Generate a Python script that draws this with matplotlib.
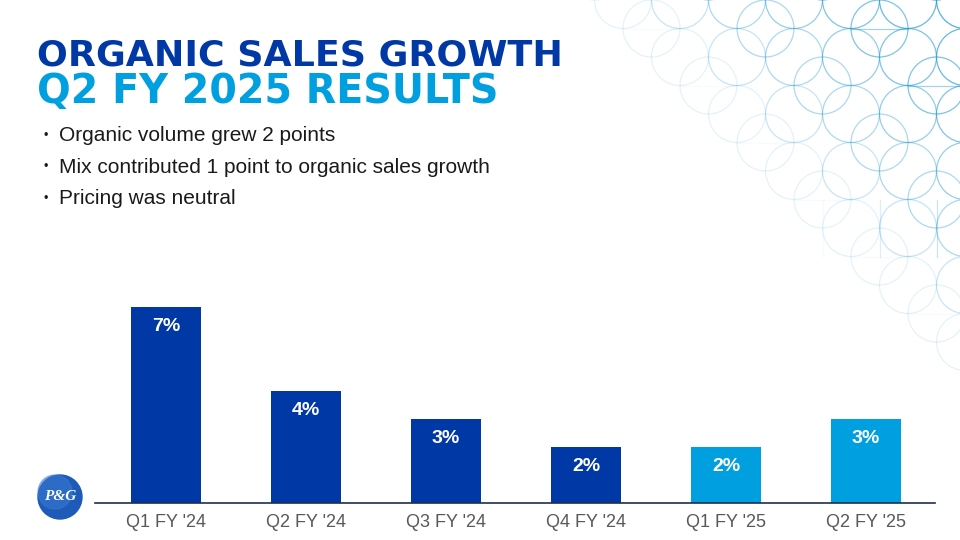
import numpy as np
import matplotlib
matplotlib.use("Agg")
import matplotlib.pyplot as plt
from matplotlib.patches import Circle

quarters = ["Q1 FY '24", "Q2 FY '24", "Q3 FY '24", "Q4 FY '24", "Q1 FY '25", "Q2 FY '25"]
growth = [7, 4, 3, 2, 2, 3]
bar_colors = ["#0039A6", "#0039A6", "#0039A6", "#0039A6", "#009FDF", "#009FDF"]
bullets = ["Organic volume grew 2 points",
           "Mix contributed 1 point to organic sales growth",
           "Pricing was neutral"]

plt.rcParams['font.family'] = ['Liberation Sans', 'DejaVu Sans']

fig = plt.figure(figsize=(9.6, 5.4), dpi=100)
W, H = 960, 540

# decorative circle pattern in the top right corner
bg = fig.add_axes([0, 0, 1, 1])
bg.set_xlim(0, W)
bg.set_ylim(H, 0)
bg.axis("off")


def fade(px, py):
    t = np.clip((px - 585 - py * 1.0) / 370, 0, 1)
    return t ** 0.8 * 0.75


step = 57
for j in range(-1, 9):
    for i in range(-1, 8):
        for dx, dy in [(0, 0), (28.5, 28.5)]:
            if dx and (i + j) % 2:
                continue
            cx = 623 + i * step + dx
            cy = j * step + dy
            a = fade(cx, cy)
            if a <= 0.03:
                continue
            bg.add_patch(Circle((cx, cy), 28.5, fill=False, lw=0.9,
                                ec="#2098D4", alpha=a))
        # a few straight grid segments
        cx = 623 + i * step
        cy = j * step + 28.5
        if (i * 3 + j * 5) % 4 == 0 and fade(cx, cy) > 0.03:
            bg.plot([cx, cx + step], [cy, cy], color="#2098D4", lw=0.9,
                    alpha=fade(cx, cy) * 0.8)
        if (i * 5 + j * 2) % 5 == 1 and fade(cx, cy) > 0.03:
            bg.plot([cx + 28.5, cx + 28.5], [cy, cy + step], color="#2098D4",
                    lw=0.9, alpha=fade(cx, cy) * 0.8)

# title
fig.text(37 / W, 1 - 55 / H, "ORGANIC SALES GROWTH", fontsize=26.2,
         fontweight="bold", family="DejaVu Sans", color="#0039A6", va="center")
fig.text(37 / W, 1 - 92 / H, "Q2 FY 2025 RESULTS", fontsize=28.5,
         fontweight="bold", family="DejaVu Sans", color="#00A0E0", va="center")

# bullets
for k, b in enumerate(bullets):
    y = 1 - (136 + k * 31.5) / H
    fig.text(44 / W, y, "\u2022", fontsize=9, color="#1A1A1A", va="center")
    fig.text(59 / W, y, b, fontsize=15, color="#1A1A1A", va="center")

# bar chart
ax = fig.add_axes([95 / W, 37 / H, 840 / W, 224 / H])
x = np.arange(len(quarters))
bars = ax.bar(x, growth, width=0.5, color=bar_colors)
for rect, v in zip(bars, growth):
    ax.text(rect.get_x() + rect.get_width() / 2, v - 0.7, f"{v}%",
            ha="center", va="center", color="white", fontsize=14,
            fontweight="bold")
ax.set_xlim(-0.507, 5.493)
ax.set_ylim(0, 8)
ax.set_xticks(x)
ax.set_xticklabels(quarters, fontsize=13, color="#595959")
ax.tick_params(axis="x", length=0, pad=8)
ax.set_yticks([])
for s in ["top", "right", "left"]:
    ax.spines[s].set_visible(False)
ax.spines["bottom"].set_color("#1F2D4F")
ax.spines["bottom"].set_linewidth(1.2)
ax.patch.set_alpha(0)

# logo
bg.add_patch(Circle((60, 497), 22, color="#1E5BB8", zorder=3))
bg.add_patch(Circle((55, 492), 17, color="#3A7BD5", alpha=0.5, zorder=3))
bg.text(60, 497, "P&G", color="white", fontsize=11, fontweight="bold",
        style="italic", family="Liberation Serif", ha="center", va="center",
        zorder=4)

fig.savefig("out.png", dpi=100)
